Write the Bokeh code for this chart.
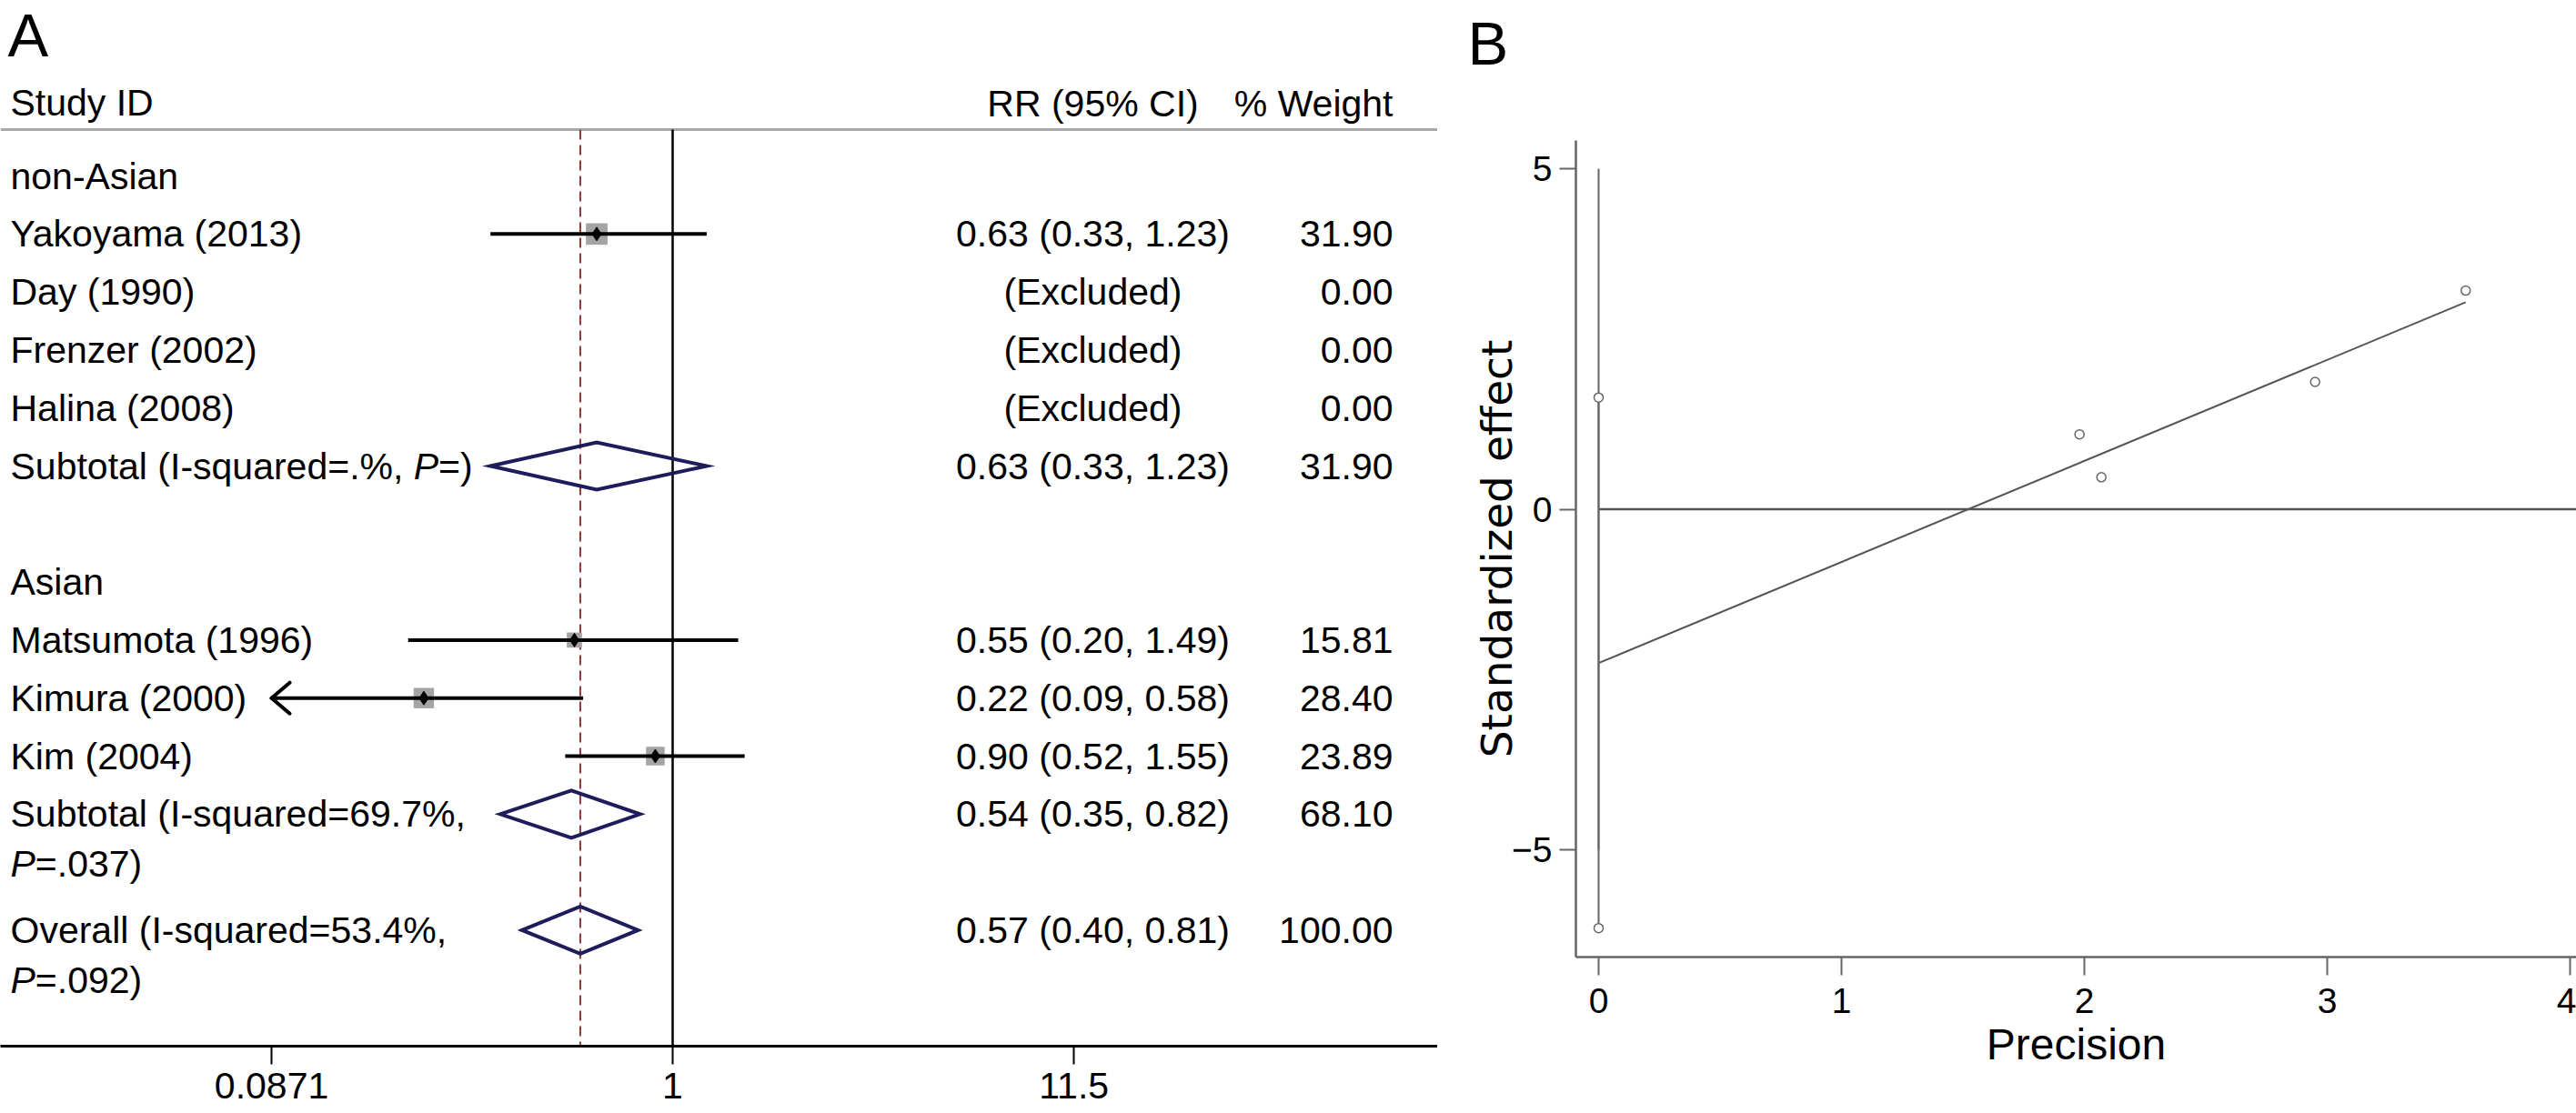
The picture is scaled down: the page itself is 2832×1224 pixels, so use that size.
import numpy as np
from bokeh.plotting import figure
from bokeh.layouts import row
from bokeh.models import Range1d, FixedTicker, LinearScale, Title
from bokeh.core.properties import value
from bokeh.embed import file_html
from bokeh.resources import INLINE

# ---------------- Panel A data (forest plot) ----------------
labels = ["non-Asian", "Yakoyama (2013)", "Day (1990)", "Frenzer (2002)", "Halina (2008)",
          "Subtotal (I-squared=.%, P=)", "Asian", "Matsumota (1996)", "Kimura (2000)",
          "Kim (2004)", "Subtotal (I-squared=69.7%, P=.037)", "Overall (I-squared=53.4%, P=.092)"]
kinds = ["group", "study", "excluded", "excluded", "excluded", "pooled",
         "group", "study", "study", "study", "pooled", "pooled"]
rows = [0, 1, 2, 3, 4, 5, 7, 8, 9, 10, 11, 13]
rr = [None, 0.63, None, None, None, 0.63, None, 0.55, 0.22, 0.90, 0.54, 0.57]
ci_lo = [None, 0.33, None, None, None, 0.33, None, 0.20, 0.09, 0.52, 0.35, 0.40]
ci_hi = [None, 1.23, None, None, None, 1.23, None, 1.49, 0.58, 1.55, 0.82, 0.81]
weight = [None, 31.90, 0.00, 0.00, 0.00, 31.90, None, 15.81, 28.40, 23.89, 68.10, 100.00]
clipped_left = [False, False, False, False, False, False, False, False, True, False, False, False]
x_ticks_a = [0.0871, 1, 11.5]
x_tick_labels_a = ["0.0871", "1", "11.5"]

# ---------------- Panel B data (Egger plot) ----------------
precision = [1.98, 2.07, 2.95, 3.57]
std_effect = [1.10, 0.47, 1.87, 3.21]
intercept_ci = [-6.15, 1.64]
y_ticks_b = [-5, 0, 5]
x_ticks_b = [0, 1, 2, 3, 4]

FONT = "Liberation Sans"
FS_NUM = 41.0
FS = "41px"

# ---------------- layout constants (page pixels) ----------------
H = 1224
W_A = 1580
BOT_A = 74
ROW_PX = 63.8
ROW0_PX = 193.0
ONE_PX = 739.0
PX_DEC = 416.0
FRAME_H_A = H - BOT_A

ARIAL = {' ': 278, '%': 889, '(': 333, ')': 333, ',': 278, '-': 333, '.': 278, '=': 584,
         'P': 667, 'I': 278, 'S': 667, 'O': 778, 'a': 556, 'b': 556, 'd': 556, 'e': 556,
         'l': 222, 'q': 556, 'r': 333, 's': 500, 't': 278, 'u': 556, 'v': 500}


def tw(s, size=FS_NUM):
    return sum(ARIAL.get(c, 556) for c in s) * size / 1000.0


def prow(px):
    return (px - ROW0_PX) / ROW_PX


xr = Range1d(10 ** ((0 - ONE_PX) / PX_DEC), 10 ** ((W_A - ONE_PX) / PX_DEC))
yr = Range1d(prow(FRAME_H_A), prow(0))

pA = figure(width=W_A, height=H, x_axis_type="log", x_range=xr, y_range=yr,
            output_backend="svg", toolbar_location=None, y_axis_location=None,
            min_border_left=0, min_border_right=0, min_border_top=0, min_border_bottom=BOT_A)
pA.frame_align = False
pA.extra_x_ranges = {"px": Range1d(0, W_A)}
pA.extra_x_scales = {"px": LinearScale()}
pA.grid.visible = False
pA.outline_line_color = None
pA.background_fill_color = "white"
pA.border_fill_color = "white"

header_row = prow(142)
bottom_row = prow(FRAME_H_A)
line2 = 55 / ROW_PX
LEFT_X = 11
RR_X = 1201
WT_X = 1531


def txt(x, y, t, align="left", size=FS, style="normal"):
    pA.text(x=x, y=y, text=t, x_range_name="px", text_font=value(FONT), text_font_size=size,
            text_font_style=style, text_baseline="middle", text_align=align, text_color="black")


# header
txt([8], [prow(38)], ["A"], size="67px")
txt([LEFT_X], [prow(112)], ["Study ID"])
txt([RR_X], [prow(113)], ["RR (95% CI)"], align="center")
txt([WT_X], [prow(113)], ["% Weight"], align="right")
pA.segment(x0=[0], x1=[W_A], y0=[header_row], y1=[header_row], x_range_name="px",
           line_color="#a8a8a8", line_width=3)

# reference lines
overall_rr = rr[kinds.index("pooled", 11)]
pA.segment(x0=[1], x1=[1], y0=[header_row], y1=[bottom_row], line_color="black", line_width=2.5)
pA.segment(x0=[overall_rr], x1=[overall_rr], y0=[header_row], y1=[bottom_row],
           line_color="#8a3a3a", line_width=2, line_dash="11 6")

# left labels (italic P)
nx, ny, nt = [], [], []
ix, iy, it = [], [], []
for lab, r in zip(labels, rows):
    if "P=" in lab:
        pre, post = lab.split("P=")
        suffix = "=" + post
        if tw(lab) > 580:
            nx += [LEFT_X, LEFT_X + tw("P")]
            ny += [r, r + line2]
            nt += [pre.rstrip(), suffix]
            ix.append(LEFT_X); iy.append(r + line2); it.append("P")
        else:
            nx += [LEFT_X, LEFT_X + tw(pre) + tw("P")]
            ny += [r, r]
            nt += [pre, suffix]
            ix.append(LEFT_X + tw(pre)); iy.append(r); it.append("P")
    else:
        nx.append(LEFT_X); ny.append(r); nt.append(lab)
txt(nx, ny, nt)
txt(ix, iy, it, style="italic")

# right columns
ry, rt, wt = [], [], []
for k, r, e, lo, hi, w in zip(kinds, rows, rr, ci_lo, ci_hi, weight):
    if k == "group":
        continue
    rt.append("(Excluded)" if k == "excluded" else f"{e:.2f} ({lo:.2f}, {hi:.2f})")
    ry.append(r)
    wt.append(f"{w:.2f}")
txt([RR_X] * len(rt), ry, rt, align="center")
txt([WT_X] * len(wt), ry, wt, align="right")

# studies
sx, sy, ss = [], [], []
cx0, cx1, cy = [], [], []
ax0, ax1, ay0, ay1 = [], [], [], []
for k, r, e, lo, hi, w, cl in zip(kinds, rows, rr, ci_lo, ci_hi, weight, clipped_left):
    if k != "study":
        continue
    sx.append(e); sy.append(r); ss.append(4.2 * np.sqrt(w))
    left = x_ticks_a[0] if cl else lo
    cx0.append(left); cx1.append(hi); cy.append(r)
    if cl:
        for d in (-1, 1):
            ax0.append(left); ay0.append(r)
            ax1.append(left * 10 ** (20 / PX_DEC)); ay1.append(r + d * 17 / ROW_PX)
pA.scatter(x=sx, y=sy, size=ss, marker="square", fill_color="#a4a4a4", line_color=None)
pA.segment(x0=cx0, x1=cx1, y0=cy, y1=cy, line_color="black", line_width=4)
pA.segment(x0=ax0, x1=ax1, y0=ay0, y1=ay1, line_color="black", line_width=4, line_cap="round")
pA.scatter(x=sx, y=sy, size=15, marker="diamond", fill_color="black", line_color="black")

# pooled diamonds
dxs, dys = [], []
hh = 26 / ROW_PX
for k, r, e, lo, hi in zip(kinds, rows, rr, ci_lo, ci_hi):
    if k != "pooled":
        continue
    dxs.append([lo, e, hi, e])
    dys.append([r, r - hh, r, r + hh])
pA.patches(xs=dxs, ys=dys, fill_color=None, line_color="#1d1d5c", line_width=4, line_join="miter")

# x axis
ax = pA.xaxis[0]
ax.ticker = FixedTicker(ticks=x_ticks_a)
ax.major_label_overrides = {t: s for t, s in zip(x_ticks_a, x_tick_labels_a)}
ax.axis_line_width = 3
ax.axis_line_color = "black"
ax.major_tick_line_width = 2
ax.major_tick_out = 20
ax.major_tick_in = 0
ax.minor_tick_out = 0
ax.minor_tick_in = 0
ax.major_label_standoff = 9
ax.major_label_text_font = FONT
ax.major_label_text_font_size = FS
ax.major_label_text_color = "black"

# ---------------- Panel B ----------------
W_B = 2832 - W_A
LEFT_B, TOP_B, BOT_B = 152, 154, 172
xrb = Range1d(-0.0936, 4.026)
yrb = Range1d(-6.575, 5.414)
pB = figure(width=W_B, height=H, x_range=xrb, y_range=yrb, output_backend="svg",
            toolbar_location=None, min_border_left=LEFT_B, min_border_right=0,
            min_border_top=TOP_B, min_border_bottom=BOT_B, title=None)
pB.frame_align = False
pB.grid.visible = False
pB.outline_line_color = None
pB.background_fill_color = "white"
pB.border_fill_color = "white"

# panel letter: a blank title keeps the letter near the top edge
pB.add_layout(Title(text=" ", text_font=FONT, text_font_size="48px"), "above")
pB.add_layout(Title(text="B", align="left", offset=-119, text_font=FONT, text_font_size="67px",
                    text_font_style="normal", text_color="black"), "above")

slope, icpt = np.polyfit(precision, std_effect, 1)
xfit = [0, max(precision)]
pB.line(x=xfit, y=[icpt + slope * v for v in xfit], line_color="#555555", line_width=2)
pB.segment(x0=[0], x1=[xrb.end + 1], y0=[0], y1=[0], line_color="#555555", line_width=2.5)
pB.segment(x0=[0, 0], x1=[0, 0], y0=[intercept_ci[0], y_ticks_b[0]],
           y1=[intercept_ci[1], y_ticks_b[-1]], line_color="#666666", line_width=2)
pB.scatter(x=precision + [0, 0], y=std_effect + intercept_ci, size=10, marker="circle",
           fill_color="white", line_color="#666666", line_width=1.5)

for a in (pB.xaxis[0], pB.yaxis[0]):
    a.axis_line_color = "#666666"
    a.axis_line_width = 2.5
    a.major_tick_line_color = "#666666"
    a.major_tick_line_width = 2
    a.major_tick_in = 0
    a.minor_tick_out = 0
    a.minor_tick_in = 0
    a.major_label_text_font = FONT
    a.major_label_text_font_size = "39px"
    a.major_label_text_color = "black"
    a.axis_label_text_font_style = "normal"
    a.axis_label_text_color = "black"

xb = pB.xaxis[0]
xb.ticker = FixedTicker(ticks=x_ticks_b)
xb.major_tick_out = 20
xb.major_label_standoff = 14
xb.axis_label = "Precision"
xb.axis_label_text_font = FONT
xb.axis_label_text_font_size = "48px"
xb.axis_label_standoff = 5

yb = pB.yaxis[0]
yb.ticker = FixedTicker(ticks=y_ticks_b)
yb.major_label_overrides = {-5: "\u22125"}
yb.major_tick_out = 18
yb.major_label_standoff = 8
yb.axis_label = "Standardized effect"
yb.axis_label_text_font = "DejaVu Sans"
yb.axis_label_text_font_size = "47px"
yb.axis_label_standoff = -14

layout = row(pA, pB)
open("out.html", "w").write(file_html(layout, INLINE))
